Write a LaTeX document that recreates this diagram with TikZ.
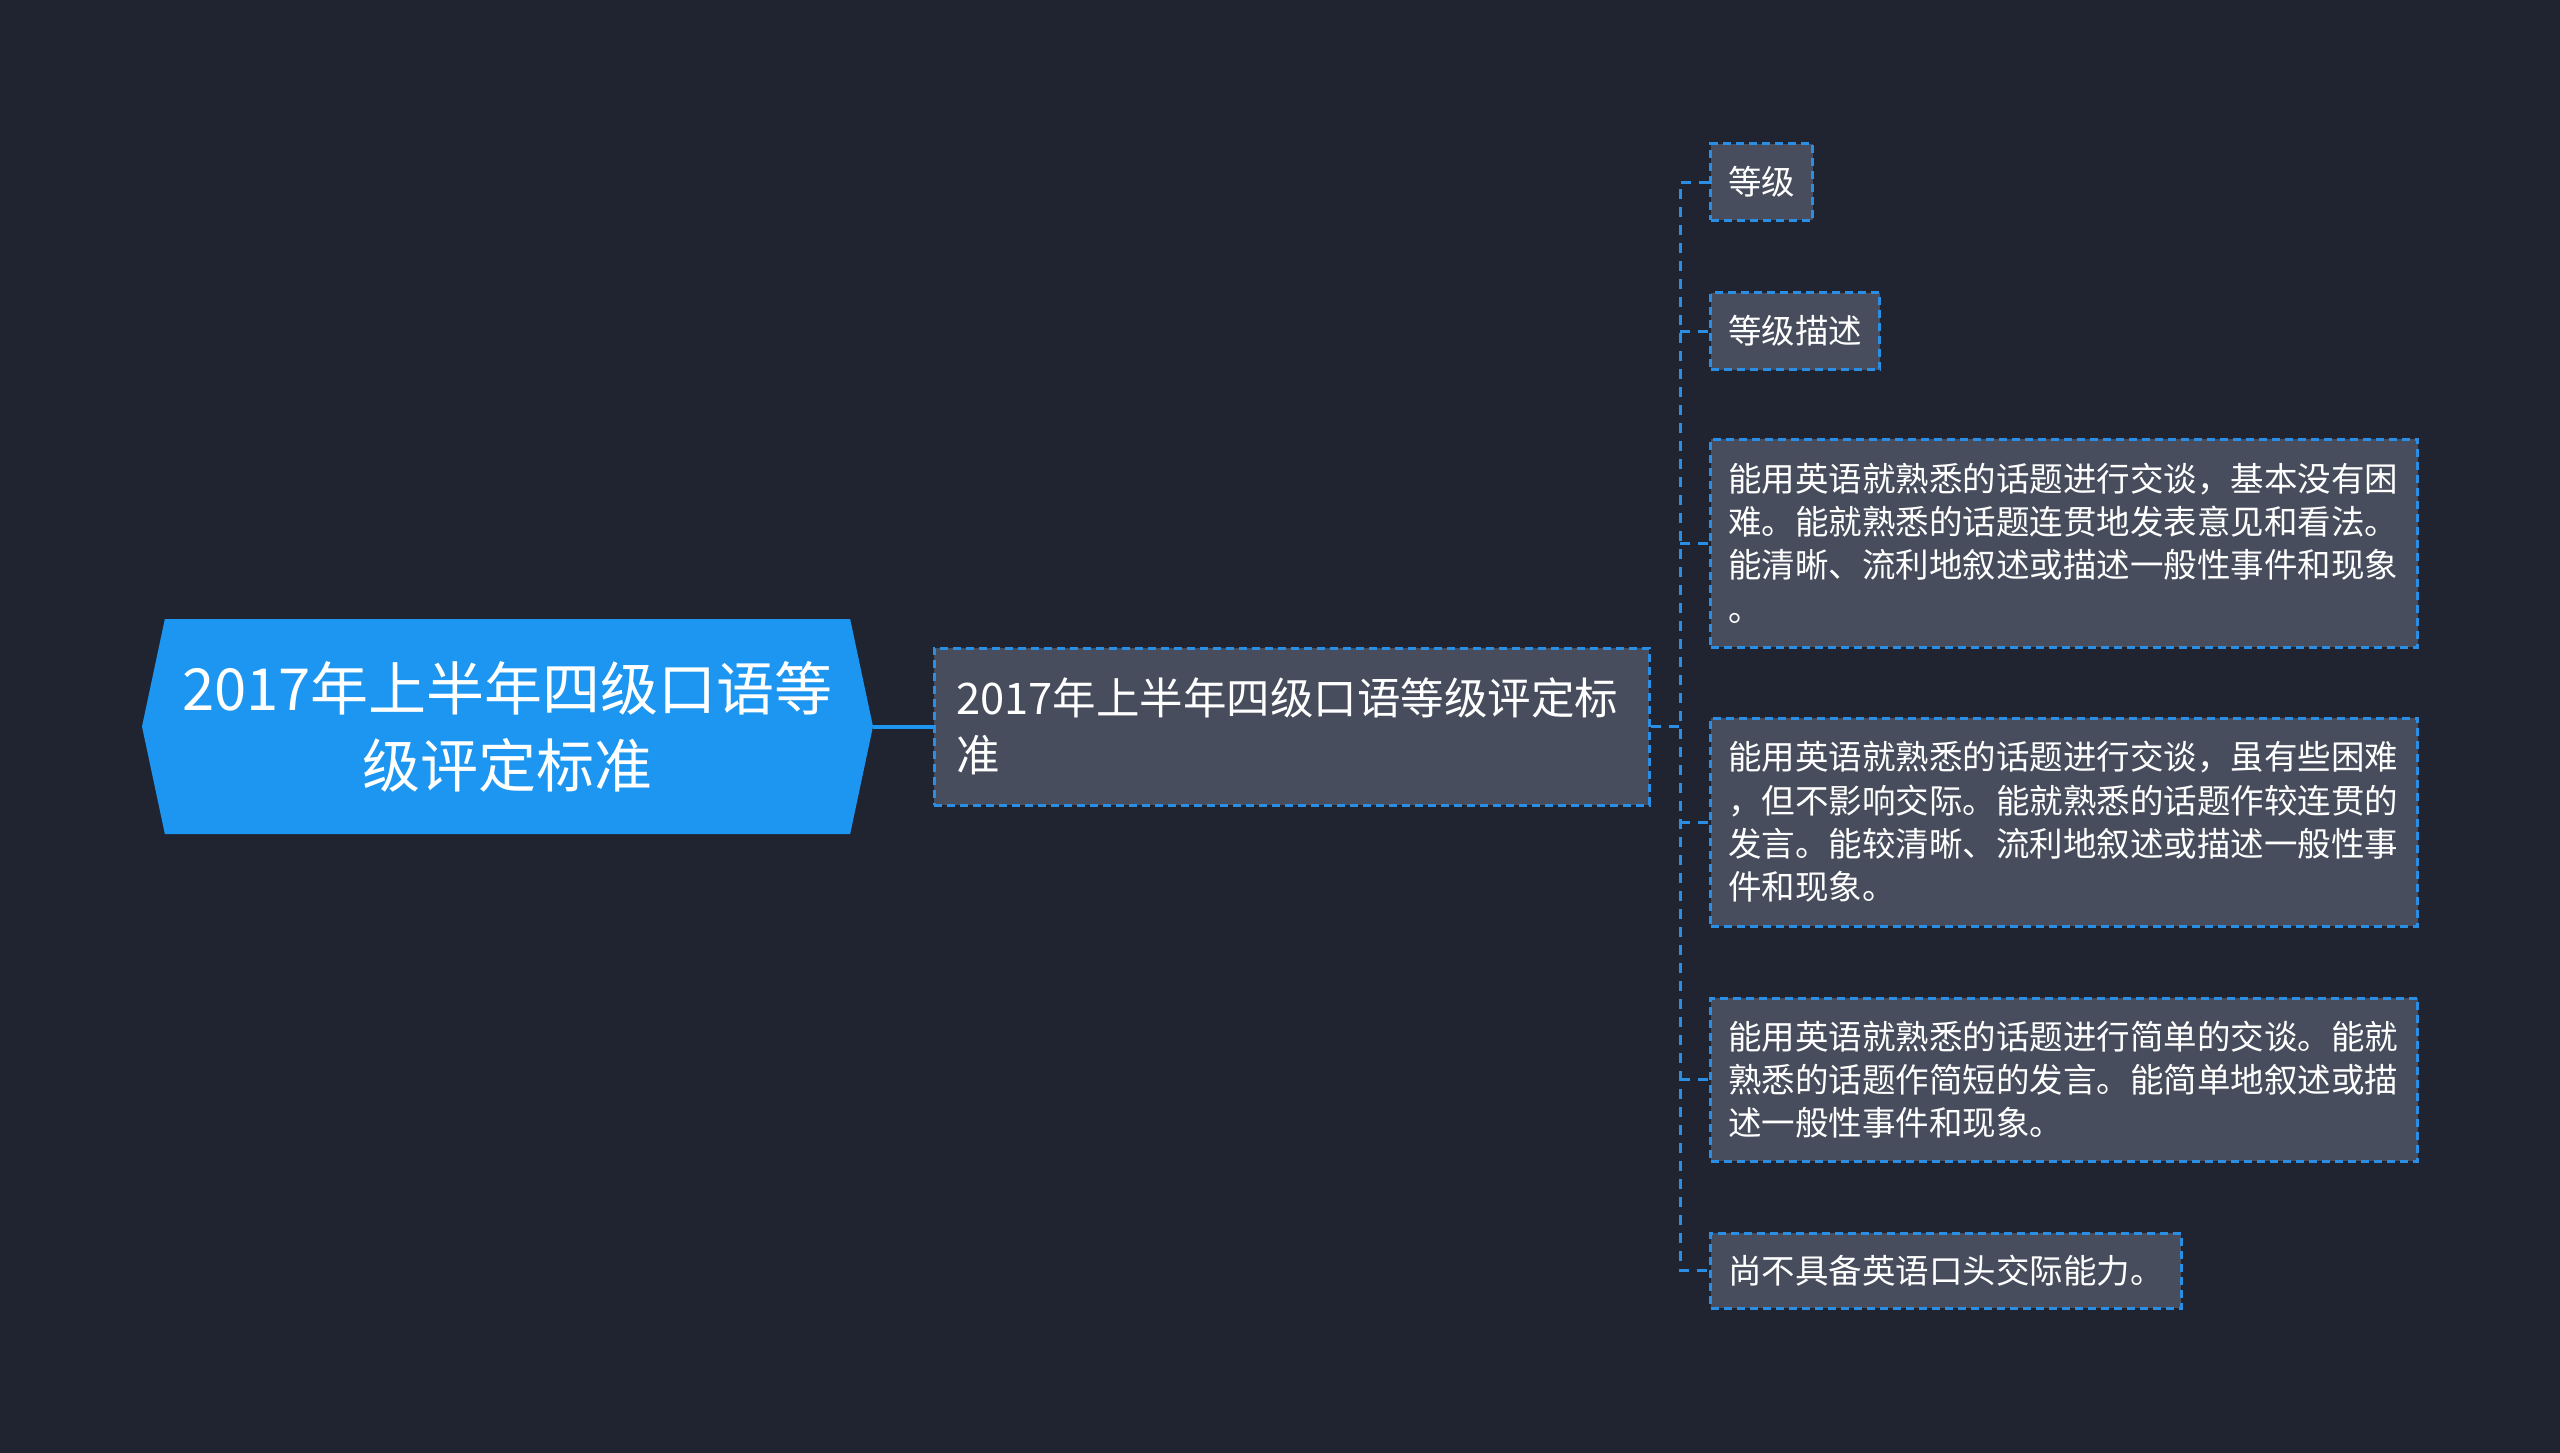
\documentclass[tikz,border=0pt]{standalone}
\usepackage{fontspec}
\setmainfont{Noto Sans CJK SC}
\usetikzlibrary{shapes.symbols}
\definecolor{bgdark}{RGB}{32,35,48}
\definecolor{rootblue}{RGB}{28,150,240}
\definecolor{leafgray}{RGB}{71,77,92}
\definecolor{dashblue}{RGB}{42,142,228}

\begin{document}
\begin{tikzpicture}[x=1pt, y=-1pt, node distance=784pt, rootnode/.style={signal, signal to=west and east, signal pointer angle=156, fill=rootblue, text=white, minimum width=731pt, minimum height=215pt, align=center, font=\fontsize{58}{77}\selectfont}, topicbox/.style={rectangle, draw=dashblue, fill=leafgray, line width=3pt, dash pattern=on 8pt off 5pt, text=white, align=left}, leafbox/.style={topicbox, anchor=west, inner xsep=17.5pt, inner ysep=4pt, font=\fontsize{33.5}{43.3}\selectfont}, link/.style={draw=dashblue, line width=3pt, dash pattern=on 10pt off 8pt}]

\useasboundingbox[fill=bgdark] (0,0) rectangle (2560,1453);

\node[rootnode] (root) at (507.5,726.5) {2017年上半年四级口语等\\级评定标准};
\node[topicbox, right of=root, text width=671pt, inner xsep=22pt, minimum height=157pt, font=\fontsize{43.5}{57}\selectfont] (standard) {2017年上半年四级口语等级评定标\\准};

\node[leafbox, minimum height=76pt] (grade) at (1709,182) {等级};
\node[leafbox, minimum height=77pt] (gradedesc) at (1709,331) {等级描述};
\node[leafbox, text width=672pt, minimum height=208pt] (levelA) at (1709,543) {能用英语就熟悉的话题进行交谈，基本没有困\\难。能就熟悉的话题连贯地发表意见和看法。\\能清晰、流利地叙述或描述一般性事件和现象\\。};
\node[leafbox, text width=672pt, minimum height=208pt] (levelB) at (1709,822) {能用英语就熟悉的话题进行交谈，虽有些困难\\，但不影响交际。能就熟悉的话题作较连贯的\\发言。能较清晰、流利地叙述或描述一般性事\\件和现象。};
\node[leafbox, text width=672pt, minimum height=163pt] (levelC) at (1709,1079.5) {能用英语就熟悉的话题进行简单的交谈。能就\\熟悉的话题作简短的发言。能简单地叙述或描\\述一般性事件和现象。};
\node[leafbox, minimum height=75pt] (levelD) at (1709,1270.5) {尚不具备英语口头交际能力。};
\coordinate (fork) at (1680,726.5);

\draw[rootblue, line width=4pt] (root.east) -- (standard.west);
\draw[link] (standard.east) -- (fork);
\draw[link] (grade.west) -| (fork) |- (levelD.west);
\foreach \leaf in {gradedesc,levelA,levelB,levelC}
  \draw[link] (fork |- \leaf.west) -- (\leaf.west);

\end{tikzpicture}
\end{document}
